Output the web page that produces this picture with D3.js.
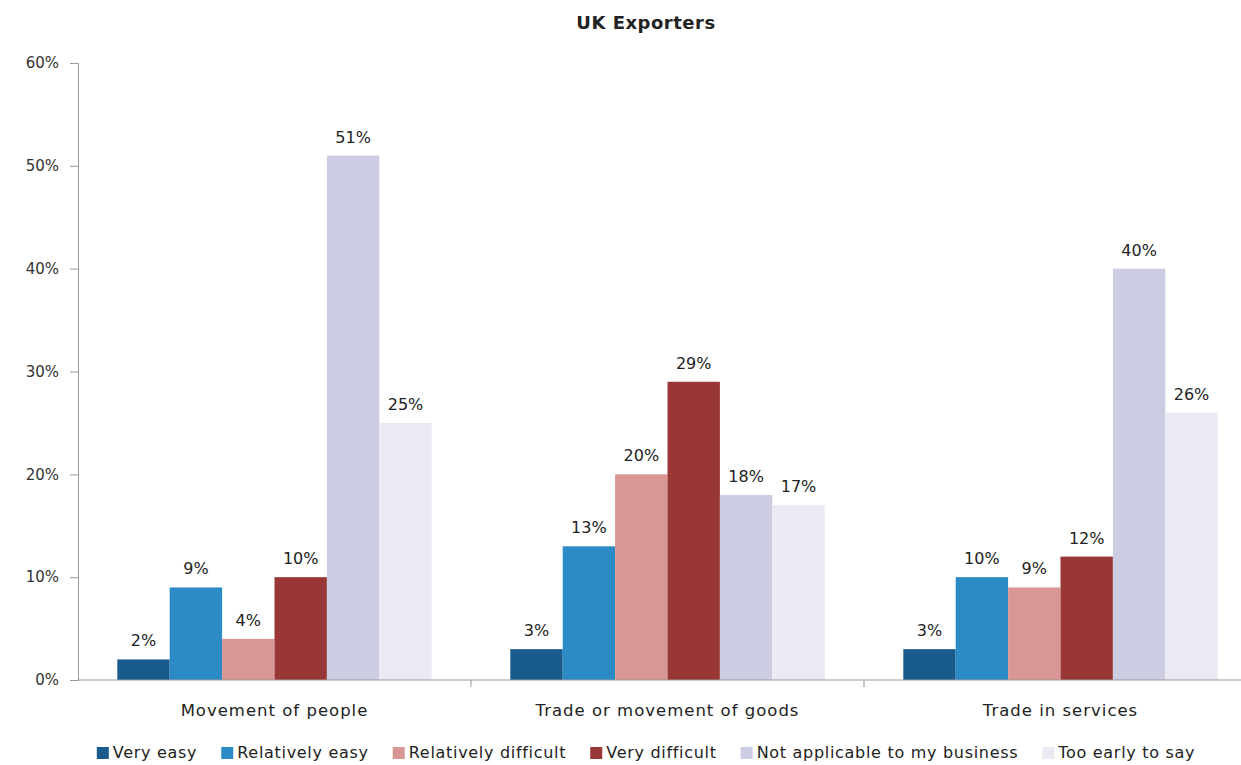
<!DOCTYPE html>
<html>
<head>
<meta charset="utf-8">
<script src="https://cdnjs.cloudflare.com/ajax/libs/d3/7.8.5/d3.min.js"></script>
<style>
  body { margin: 0; background: #fff; }
  svg { display: block; font-family: "DejaVu Sans", sans-serif; }
</style>
</head>
<body>
<div id="container"></div>
<script>
var categories = ["Movement of people", "Trade or movement of goods", "Trade in services"];
var series = ["Very easy", "Relatively easy", "Relatively difficult", "Very difficult",
              "Not applicable to my business", "Too early to say"];
// one array per series, values per category
var veryEasy = [0.02, 0.03, 0.03];
var relEasy = [0.09, 0.13, 0.10];
var relDifficult = [0.04, 0.20, 0.09];
var veryDifficult = [0.10, 0.29, 0.12];
var notApplicable = [0.51, 0.18, 0.40];
var tooEarly = [0.25, 0.17, 0.26];
var yTicks = [0, 0.1, 0.2, 0.3, 0.4, 0.5, 0.6];

var values = [veryEasy, relEasy, relDifficult, veryDifficult, notApplicable, tooEarly];
var colors = ["#185b8c", "#2c8bc5", "#da9694", "#983735", "#cccde3", "#ebe9f3"];

var width = 1241,
    height = 765,
    plotLeft = 78,
    plotRight = 1257,   // plot runs past the right edge, as in the source
    plotTop = 63,
    plotBottom = 680,
    centerX = 646

var svg = d3.select("#container").append("svg")
    .attr("width", width)
    .attr("height", height);

var x0 = d3.scaleBand().domain(categories).range([plotLeft, plotRight]).padding(0);
var x1 = d3.scaleBand().domain(series).range([0, x0.bandwidth()])
    .paddingInner(0).paddingOuter(0.75);
var y = d3.scaleLinear().domain([0, 0.6]).range([plotBottom, plotTop]);
var pct = d3.format(".0%");

// title
svg.append("text")
    .attr("x", centerX)
    .attr("y", 29)
    .attr("text-anchor", "middle")
    .style("font-size", "18px")
    .style("font-weight", "bold")
    .style("letter-spacing", "0.5px")
    .style("fill", "#222")
    .text("UK Exporters");

// y axis
var yAxis = svg.append("g")
    .attr("transform", "translate(" + plotLeft + ",0)")
    .call(d3.axisLeft(y).tickValues(yTicks).tickFormat(pct).tickSize(8).tickPadding(11));
yAxis.select(".domain").attr("stroke", "#9a9a9a");
yAxis.selectAll(".tick line").attr("stroke", "#9a9a9a");
yAxis.selectAll("text").style("font-size", "15px").style("fill", "#333")
    .style("font-family", "DejaVu Sans, sans-serif");

// bars
var rows = [];
categories.forEach(function (c, ci) {
    series.forEach(function (s, si) {
        rows.push({ cat: c, ser: s, si: si, v: values[si][ci] });
    });
});

var groups = svg.append("g");
groups.selectAll("rect")
    .data(rows)
    .enter().append("rect")
    .attr("x", function (d) { return x0(d.cat) + x1(d.ser); })
    .attr("y", function (d) { return y(d.v); })
    .attr("width", x1.bandwidth())
    .attr("height", function (d) { return y(0) - y(d.v); })
    .style("fill", function (d) { return colors[d.si]; });

groups.selectAll("text")
    .data(rows)
    .enter().append("text")
    .attr("x", function (d) { return x0(d.cat) + x1(d.ser) + x1.bandwidth() / 2; })
    .attr("y", function (d) { return y(d.v) - 13; })
    .attr("text-anchor", "middle")
    .style("font-size", "16px")
    .style("fill", "#222")
    .text(function (d) { return pct(d.v); });

// x axis
var xAxis = svg.append("g")
    .attr("transform", "translate(0," + plotBottom + ")");
xAxis.append("line")
    .attr("x1", plotLeft).attr("x2", plotRight)
    .attr("stroke", "#9a9a9a");
xAxis.selectAll(".sep")
    .data(categories.slice(1))
    .enter().append("line")
    .attr("class", "sep")
    .attr("x1", function (d) { return x0(d); })
    .attr("x2", function (d) { return x0(d); })
    .attr("y1", 0).attr("y2", 7)
    .attr("stroke", "#9a9a9a");
xAxis.selectAll("text")
    .data(categories)
    .enter().append("text")
    .attr("x", function (d) { return x0(d) + x0.bandwidth() / 2; })
    .attr("y", 36)
    .attr("text-anchor", "middle")
    .style("font-size", "16.5px")
    .style("letter-spacing", "1px")
    .style("fill", "#222")
    .text(function (d) { return d; });

// legend, laid out in a row and centred
var legend = svg.append("g").attr("transform", "translate(0,758)");
var items = legend.selectAll("g")
    .data(series)
    .enter().append("g");
items.append("rect")
    .attr("y", -11)
    .attr("width", 12).attr("height", 12)
    .style("fill", function (d, i) { return colors[i]; });
items.append("text")
    .attr("x", 16)
    .style("font-size", "16px")
    .style("letter-spacing", "0.7px")
    .style("fill", "#222")
    .text(function (d) { return d; });

var gap = 24, pos = 0, offsets = [];
items.each(function () {
    offsets.push(pos);
    pos += this.getBBox().width + gap;
});
var total = pos - gap;
var start = centerX - total / 2;
items.attr("transform", function (d, i) { return "translate(" + (start + offsets[i]) + ",0)"; });
</script>
</body>
</html>
